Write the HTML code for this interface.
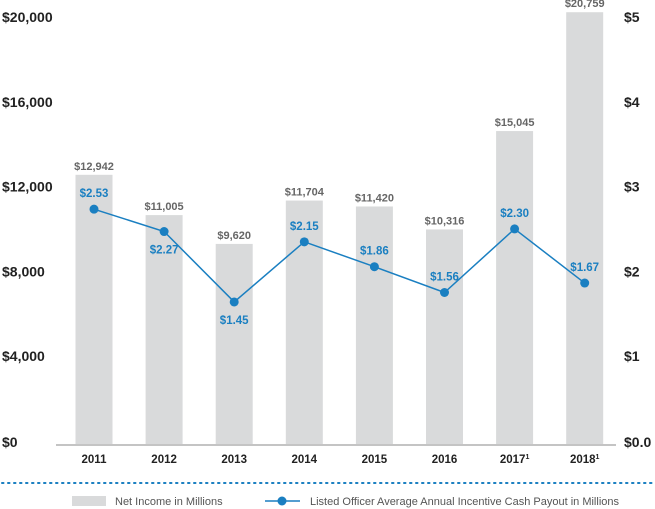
<!DOCTYPE html>
<html><head><meta charset="utf-8"><style>
body{margin:0;background:#fff;width:655px;height:509px;overflow:hidden;font-family:"Liberation Sans",sans-serif}
svg{display:block}
</style></head><body>
<svg id="chart" width="655" height="509" viewBox="0 0 655 509"></svg>
<script>
const categories=["2011","2012","2013","2014","2015","2016","2017","2018"];
const supers=["","","","","","","1","1"];
const netIncome=[12942,11005,9620,11704,11420,10316,15045,20759];
const payout=[2.53,2.27,1.45,2.15,1.86,1.56,2.30,1.67];
const leftTicks=[0,4000,8000,12000,16000,20000];
const leftTickLabels=["$0","$4,000","$8,000","$12,000","$16,000","$20,000"];
const rightTicks=[0,1,2,3,4,5];
const rightTickLabels=["$0.0","$1","$2","$3","$4","$5"];
const NS="http://www.w3.org/2000/svg";
const svg=document.getElementById('chart');
function mk(t,a,txt){const e=document.createElementNS(NS,t);for(const k in a)e.setAttribute(k,a[k]);if(txt!=null)e.textContent=txt;svg.appendChild(e);return e;}
const y0=444,yTop=28;
const yL=v=>y0-(v/20000)*(y0-yTop);
const yR=v=>y0-(v/5)*(y0-yTop);
const yLine=v=>426.5-v*85.9;
const x=i=>94+i*70.1;
const tickY=v=>v===0?447:yL(v)-(v/20000)*8+2;
const tickYR=v=>v===0?447:yR(v)-(v/5)*8+2;
leftTicks.forEach((t,i)=>{const e=mk('text',{x:2,y:tickY(t),'font-size':14,'font-weight':'bold',fill:'#222'},leftTickLabels[i]);

});
rightTicks.forEach((t,i)=>{const e=mk('text',{x:624,y:tickYR(t),'font-size':14,'font-weight':'bold',fill:'#222'},rightTickLabels[i]);

});
netIncome.forEach((v,i)=>{
const b=mk('rect',{x:x(i)-18.5,y:yL(v),width:37,height:y0-yL(v),fill:'#d9dadb'});


const l=mk('text',{x:x(i),y:yL(v)-5,'font-size':11,'font-weight':'bold',fill:'#666','text-anchor':'middle'},'$'+v.toLocaleString('en-US'));


const c=mk('text',{x:x(i),y:463,'font-size':11.5,'font-weight':'bold',fill:'#222','text-anchor':'middle'},categories[i]);


if(supers[i]){const s=mk('tspan',{'font-size':7,dy:-4},supers[i]);c.appendChild(s);}
});
const ax=mk('line',{x1:56,x2:616,y1:y0+1,y2:y0+1,stroke:'#888','stroke-width':1});


const pl=mk('polyline',{points:payout.map((v,i)=>x(i)+','+yLine(v)).join(' '),fill:'none',stroke:'#1a7fc1','stroke-width':1.5});


payout.forEach((v,i)=>{
const c=mk('circle',{cx:x(i),cy:yLine(v),r:4.5,fill:'#1a7fc1'});


const below=(i===1||i===2);
const ty=below?yLine(v)+22:yLine(v)-12;
const t=mk('text',{x:x(i),y:ty,'font-size':11.5,'font-weight':'bold',fill:'#1a7fc1','text-anchor':'middle'},'$'+v.toFixed(2));


});
const dl=mk('line',{x1:2,x2:655,y1:483,y2:483,stroke:'#1a7fc1','stroke-width':2,'stroke-dasharray':'1.5 4.5','stroke-linecap':'round'});


const ls=mk('rect',{x:72,y:496,width:34,height:10,fill:'#d9dadb'});


const lt=mk('text',{x:115,y:505,'font-size':11,fill:'#555'},'Net Income in Millions');


const ll=mk('line',{x1:265,x2:300,y1:501,y2:501,stroke:'#1a7fc1','stroke-width':1.5});


const lc=mk('circle',{cx:282,cy:501,r:4.5,fill:'#1a7fc1'});


const lt2=mk('text',{x:310,y:505,'font-size':11,fill:'#555'},'Listed Officer Average Annual Incentive Cash Payout in Millions');


</script>
</body></html>
